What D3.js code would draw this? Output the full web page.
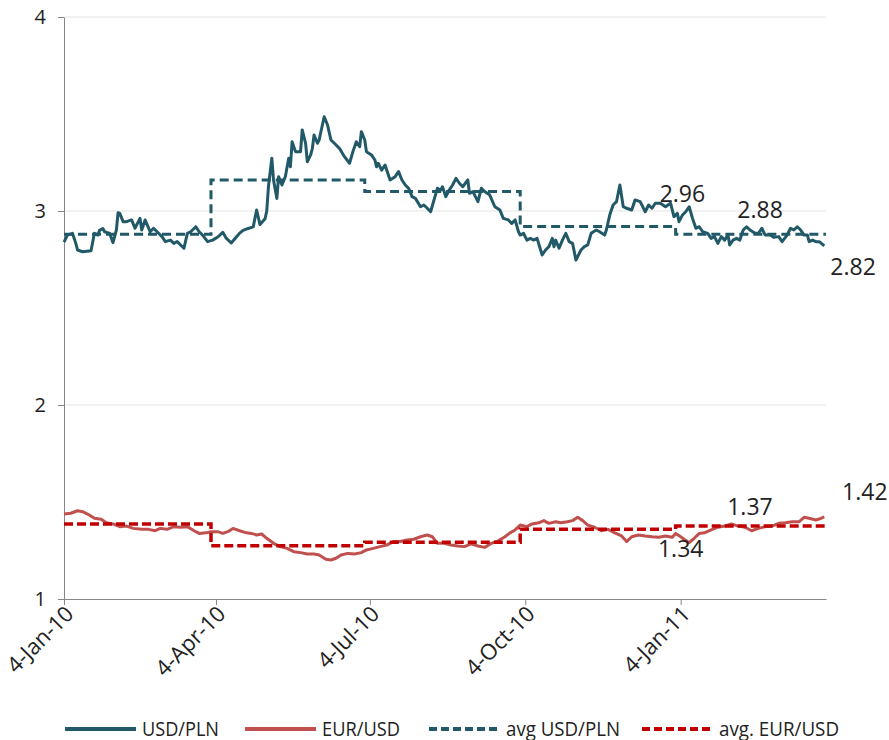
<!DOCTYPE html>
<html><head><meta charset="utf-8">
<script src="https://cdn.jsdelivr.net/npm/d3@7"></script>
<style>body{margin:0;background:#fff} svg{display:block} text{font-family:"Open Sans",sans-serif}</style>
</head><body><svg id="c" width="889" height="740"></svg>
<script>
// ---- data ----
const usdPln = [
["2010-01-04",2.84],["2010-01-06",2.876],["2010-01-09",2.885],["2010-01-11",2.833],["2010-01-12",2.799],["2010-01-15",2.79],
["2010-01-20",2.795],["2010-01-22",2.885],["2010-01-24",2.876],["2010-01-25",2.90],["2010-01-27",2.91],["2010-01-28",2.893],
["2010-01-31",2.885],["2010-02-02",2.837],["2010-02-04",2.902],["2010-02-05",2.991],["2010-02-06",2.988],["2010-02-08",2.945],
["2010-02-10",2.945],["2010-02-13",2.954],["2010-02-15",2.911],["2010-02-18",2.962],["2010-02-19",2.902],["2010-02-21",2.954],
["2010-02-24",2.893],["2010-02-26",2.911],["2010-03-01",2.885],["2010-03-03",2.868],["2010-03-05",2.842],["2010-03-08",2.85],
["2010-03-10",2.833],["2010-03-12",2.842],["2010-03-14",2.825],["2010-03-16",2.808],["2010-03-18",2.885],["2010-03-20",2.893],
["2010-03-23",2.919],["2010-03-25",2.893],["2010-03-27",2.876],["2010-03-30",2.842],["2010-04-02",2.85],["2010-04-05",2.866],
["2010-04-08",2.89],["2010-04-10",2.86],["2010-04-13",2.835],["2010-04-16",2.866],["2010-04-18",2.886],["2010-04-20",2.90],
["2010-04-23",2.91],["2010-04-26",2.918],["2010-04-28",3.005],["2010-04-30",2.93],["2010-05-03",2.96],["2010-05-04",3.0],
["2010-05-05",3.125],["2010-05-07",3.272],["2010-05-08",3.16],["2010-05-10",3.065],["2010-05-11",3.177],["2010-05-13",3.134],
["2010-05-15",3.177],["2010-05-17",3.272],["2010-05-18",3.228],["2010-05-19",3.357],["2010-05-21",3.306],["2010-05-24",3.306],
["2010-05-25",3.418],["2010-05-27",3.349],["2010-05-28",3.254],["2010-05-30",3.289],["2010-05-31",3.323],["2010-06-01",3.392],
["2010-06-03",3.349],["2010-06-04",3.366],["2010-06-07",3.486],["2010-06-09",3.443],["2010-06-11",3.366],["2010-06-13",3.349],
["2010-06-16",3.323],["2010-06-19",3.28],["2010-06-22",3.246],["2010-06-24",3.306],["2010-06-26",3.357],["2010-06-28",3.331],
["2010-06-29",3.409],["2010-07-01",3.366],["2010-07-02",3.306],["2010-07-05",3.289],["2010-07-07",3.263],["2010-07-08",3.228],
["2010-07-09",3.246],["2010-07-11",3.211],["2010-07-13",3.237],["2010-07-15",3.186],["2010-07-16",3.16],["2010-07-19",3.177],
["2010-07-21",3.203],["2010-07-23",3.16],["2010-07-25",3.134],["2010-07-27",3.117],["2010-07-29",3.074],["2010-07-31",3.065],
["2010-08-03",3.022],["2010-08-05",3.031],["2010-08-07",3.014],["2010-08-09",2.996],["2010-08-11",3.057],["2010-08-13",3.117],
["2010-08-15",3.108],["2010-08-16",3.125],["2010-08-18",3.074],["2010-08-19",3.091],["2010-08-20",3.108],["2010-08-22",3.134],
["2010-08-24",3.168],["2010-08-26",3.143],["2010-08-28",3.125],["2010-08-31",3.16],["2010-09-01",3.091],["2010-09-03",3.1],
["2010-09-06",3.048],["2010-09-08",3.117],["2010-09-10",3.1],["2010-09-13",3.082],["2010-09-16",3.022],["2010-09-19",3.005],
["2010-09-21",2.962],["2010-09-24",2.954],["2010-09-26",2.936],["2010-09-28",2.954],["2010-09-30",2.893],["2010-10-01",2.876],
["2010-10-03",2.885],["2010-10-05",2.85],["2010-10-07",2.859],["2010-10-09",2.85],["2010-10-11",2.859],["2010-10-14",2.773],
["2010-10-16",2.799],["2010-10-18",2.816],["2010-10-20",2.859],["2010-10-21",2.816],["2010-10-22",2.85],["2010-10-24",2.808],
["2010-10-26",2.85],["2010-10-28",2.885],["2010-10-30",2.842],["2010-11-01",2.833],["2010-11-03",2.747],["2010-11-06",2.799],
["2010-11-08",2.816],["2010-11-10",2.825],["2010-11-12",2.885],["2010-11-15",2.902],["2010-11-17",2.893],["2010-11-20",2.876],
["2010-11-21",2.902],["2010-11-23",2.979],["2010-11-25",3.031],["2010-11-27",3.048],["2010-11-29",3.134],["2010-12-01",3.022],
["2010-12-03",3.014],["2010-12-06",3.005],["2010-12-08",3.057],["2010-12-11",3.048],["2010-12-14",2.996],["2010-12-16",3.031],
["2010-12-18",3.014],["2010-12-20",3.04],["2010-12-23",3.04],["2010-12-26",3.022],["2010-12-29",3.04],["2010-12-31",2.971],
["2011-01-02",2.988],["2011-01-03",2.945],["2011-01-05",2.979],["2011-01-07",2.996],["2011-01-09",3.022],["2011-01-11",2.962],
["2011-01-13",2.911],["2011-01-15",2.919],["2011-01-17",2.893],["2011-01-20",2.885],["2011-01-22",2.859],["2011-01-24",2.868],
["2011-01-26",2.833],["2011-01-28",2.868],["2011-01-30",2.85],["2011-02-01",2.876],["2011-02-02",2.825],["2011-02-04",2.85],
["2011-02-06",2.859],["2011-02-08",2.85],["2011-02-10",2.902],["2011-02-12",2.919],["2011-02-14",2.902],["2011-02-17",2.885],
["2011-02-19",2.885],["2011-02-21",2.911],["2011-02-23",2.876],["2011-02-26",2.876],["2011-02-28",2.864],["2011-03-03",2.868],
["2011-03-05",2.842],["2011-03-08",2.876],["2011-03-10",2.911],["2011-03-12",2.902],["2011-03-14",2.919],["2011-03-16",2.902],
["2011-03-18",2.876],["2011-03-20",2.876],["2011-03-21",2.842],["2011-03-23",2.85],["2011-03-25",2.842],["2011-03-27",2.842],
["2011-03-30",2.82]
];
const eurUsd = [
["2010-01-04",1.438],["2010-01-08",1.442],["2010-01-12",1.455],["2010-01-15",1.45],["2010-01-19",1.433],["2010-01-22",1.416],
["2010-01-26",1.411],["2010-01-29",1.393],["2010-02-02",1.387],["2010-02-06",1.373],["2010-02-10",1.376],["2010-02-14",1.364],
["2010-02-19",1.359],["2010-02-23",1.359],["2010-02-27",1.352],["2010-03-02",1.364],["2010-03-06",1.359],["2010-03-10",1.373],
["2010-03-14",1.37],["2010-03-18",1.373],["2010-03-22",1.352],["2010-03-25",1.338],["2010-03-29",1.341],["2010-04-01",1.347],
["2010-04-05",1.347],["2010-04-08",1.338],["2010-04-11",1.347],["2010-04-14",1.364],["2010-04-18",1.352],["2010-04-22",1.341],
["2010-04-25",1.338],["2010-04-28",1.33],["2010-05-01",1.335],["2010-05-04",1.313],["2010-05-08",1.287],["2010-05-12",1.27],
["2010-05-16",1.261],["2010-05-20",1.244],["2010-05-24",1.239],["2010-05-28",1.232],["2010-06-01",1.232],["2010-06-04",1.227],
["2010-06-08",1.205],["2010-06-11",1.201],["2010-06-14",1.21],["2010-06-17",1.227],["2010-06-21",1.235],["2010-06-25",1.232],
["2010-06-29",1.239],["2010-07-02",1.253],["2010-07-06",1.261],["2010-07-10",1.27],["2010-07-14",1.278],["2010-07-18",1.296],
["2010-07-22",1.296],["2010-07-26",1.304],["2010-07-30",1.308],["2010-08-03",1.321],["2010-08-07",1.33],["2010-08-10",1.321],
["2010-08-13",1.287],["2010-08-17",1.287],["2010-08-21",1.278],["2010-08-25",1.273],["2010-08-29",1.27],["2010-09-02",1.284],
["2010-09-06",1.273],["2010-09-10",1.266],["2010-09-14",1.287],["2010-09-18",1.30],["2010-09-22",1.321],["2010-09-25",1.341],
["2010-09-28",1.356],["2010-10-01",1.381],["2010-10-05",1.373],["2010-10-08",1.387],["2010-10-12",1.393],["2010-10-15",1.404],
["2010-10-18",1.39],["2010-10-22",1.398],["2010-10-25",1.393],["2010-10-29",1.398],["2010-11-01",1.404],["2010-11-04",1.421],
["2010-11-07",1.404],["2010-11-10",1.381],["2010-11-14",1.37],["2010-11-18",1.352],["2010-11-22",1.359],["2010-11-26",1.341],
["2010-11-30",1.325],["2010-12-03",1.296],["2010-12-06",1.321],["2010-12-10",1.33],["2010-12-14",1.325],["2010-12-18",1.321],
["2010-12-22",1.318],["2010-12-26",1.325],["2010-12-30",1.318],["2011-01-01",1.338],["2011-01-04",1.321],["2011-01-06",1.308],
["2011-01-09",1.29],["2011-01-12",1.313],["2011-01-15",1.338],["2011-01-18",1.341],["2011-01-22",1.356],["2011-01-26",1.37],
["2011-01-30",1.376],["2011-02-03",1.387],["2011-02-07",1.376],["2011-02-11",1.37],["2011-02-15",1.352],["2011-02-19",1.364],
["2011-02-23",1.373],["2011-02-27",1.376],["2011-03-03",1.39],["2011-03-07",1.393],["2011-03-11",1.398],["2011-03-15",1.398],
["2011-03-18",1.421],["2011-03-21",1.416],["2011-03-25",1.407],["2011-03-28",1.416],["2011-03-30",1.424]
];
const quarterStarts = ["2010-01-04","2010-04-01","2010-07-01","2010-10-01","2011-01-01"];
const periodEnd = "2011-03-31";
const avgUsdPln = [2.88, 3.16, 3.10, 2.92, 2.88];
const avgEurUsd = [1.387, 1.275, 1.293, 1.359, 1.376];
const yTicks = [1, 2, 3, 4];
const xTickDates = ["2010-01-04","2010-04-04","2010-07-04","2010-10-04","2011-01-04"];
const labelTexts  = ["2.96","2.88","2.82","1.34","1.37","1.42"];
const labelDates  = ["2011-01-05","2011-02-20","2011-04-16","2011-01-04","2011-02-14","2011-04-23"];
const labelLevels = [3.046, 2.964, 2.670, 1.216, 1.433, 1.510];
const legendNames = ["USD/PLN","EUR/USD","avg USD/PLN","avg. EUR/USD"];

// ---- drawing ----
const parse = d3.timeParse("%Y-%m-%d");
const svg = d3.select("#c");
const x = d3.scaleTime().domain([parse(quarterStarts[0]), parse(periodEnd)]).range([64, 826]);
const y = d3.scaleLinear().domain([1, 4]).range([599, 17]);
const TEAL = "#215968", RED = "#c0504d", DRED = "#c00000";

// gridlines
svg.append("g").selectAll("line").data(yTicks.filter(v => v > 1)).join("line")
  .attr("x1", x.range()[0]).attr("x2", x.range()[1])
  .attr("y1", d => y(d)).attr("y2", d => y(d))
  .attr("stroke", "#e4e4e4").attr("stroke-width", 1);

// y axis
const ya = svg.append("g").attr("transform", `translate(${x.range()[0]},0)`)
  .call(d3.axisLeft(y).tickValues(yTicks).tickFormat(d3.format("d")).tickSize(6).tickPadding(12).tickSizeOuter(0));
ya.select(".domain").attr("stroke", "#868686");
ya.selectAll(".tick line").attr("stroke", "#868686");
ya.selectAll(".tick text").attr("font-size", 20).attr("fill", "#222").attr("font-family", '"Open Sans",sans-serif');

// x axis
const xa = svg.append("g").attr("transform", `translate(0,${y(1)})`)
  .call(d3.axisBottom(x).tickValues(xTickDates.map(parse)).tickFormat(d3.timeFormat("%-d-%b-%y")).tickSize(6).tickSizeOuter(0));
xa.select(".domain").attr("stroke", "#868686");
xa.selectAll(".tick line").attr("stroke", "#868686");
xa.selectAll(".tick text")
  .attr("font-size", 22).attr("fill", "#222").attr("font-family", '"Open Sans",sans-serif')
  .attr("text-anchor", "end").attr("y", 0).attr("dy", "0.35em")
  .attr("transform", "translate(5,11) rotate(-45)");

// series lines
const line = d3.line().x(d => x(parse(d[0]))).y(d => y(d[1])).curve(d3.curveLinear);
const stepData = arr => quarterStarts.map((d, i) => [d, arr[i]]).concat([[periodEnd, arr[arr.length - 1]]]);
const step = d3.line().x(d => x(parse(d[0]))).y(d => y(d[1])).curve(d3.curveStepAfter);

svg.append("path").datum(eurUsd).attr("d", line).attr("fill", "none")
  .attr("stroke", RED).attr("stroke-width", 3).attr("stroke-linejoin", "round");
svg.append("path").datum(usdPln).attr("d", line).attr("fill", "none")
  .attr("stroke", TEAL).attr("stroke-width", 3).attr("stroke-linejoin", "round");
svg.append("path").datum(stepData(avgUsdPln)).attr("d", step).attr("fill", "none")
  .attr("stroke", TEAL).attr("stroke-width", 3).attr("stroke-dasharray", "9,5");
svg.append("path").datum(stepData(avgEurUsd)).attr("d", step).attr("fill", "none")
  .attr("stroke", DRED).attr("stroke-width", 3.5).attr("stroke-dasharray", "9,4");

// data labels
svg.append("g").selectAll("text").data(labelTexts).join("text")
  .attr("x", (d, i) => x(parse(labelDates[i]))).attr("y", (d, i) => y(labelLevels[i]))
  .attr("text-anchor", "middle").attr("font-size", 23).attr("fill", "#222")
  .text(d => d);

// legend
const legendStyles = [
  {c: TEAL, dash: null, w: 4},
  {c: RED, dash: null, w: 4},
  {c: TEAL, dash: "8,4", w: 4},
  {c: DRED, dash: "8,4", w: 4}
];
const legX = [65, 245, 429, 642], legTextW = [77, 78, 114, 120];
const lg = svg.append("g");
legendNames.forEach((n, i) => {
  lg.append("line").attr("x1", legX[i]).attr("x2", legX[i] + 71).attr("y1", 729).attr("y2", 729)
    .attr("stroke", legendStyles[i].c).attr("stroke-width", legendStyles[i].w)
    .attr("stroke-dasharray", legendStyles[i].dash);
  lg.append("text").attr("x", legX[i] + 77).attr("y", 735.5).attr("font-size", 20).attr("fill", "#222")
    .attr("textLength", legTextW[i]).attr("lengthAdjust", "spacingAndGlyphs").text(n);
});
</script></body></html>
